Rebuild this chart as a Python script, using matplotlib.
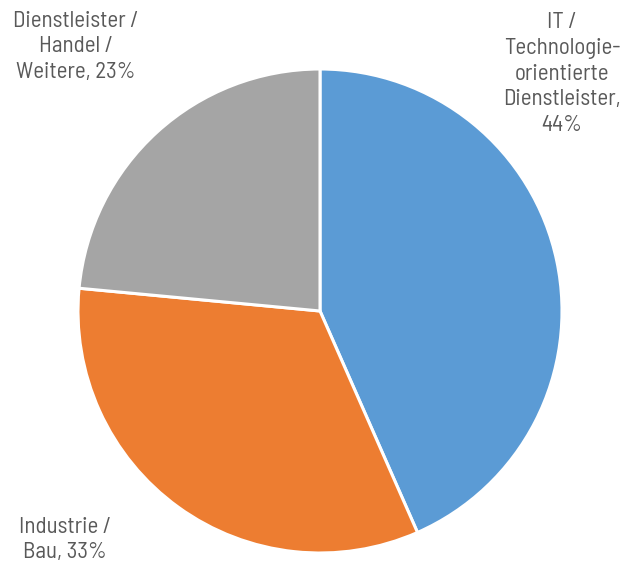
import matplotlib
matplotlib.use("Agg")
import matplotlib.pyplot as plt

categories = ["IT /\nTechnologie-\norientierte\nDienstleister,\n44%",
              "Industrie /\nBau, 33%",
              "Dienstleister /\nHandel /\nWeitere, 23%"]
values = [43.4, 33.1, 23.5]
colors = ["#5B9BD5", "#ED7D31", "#A5A5A5"]

W, H = 641, 566
fig = plt.figure(figsize=(W / 100, H / 100), dpi=100)
cx, cy, r = 320, 311, 242
ax = fig.add_axes([(cx - r) / W, (H - cy - r) / H, 2 * r / W, 2 * r / H])
ax.pie(values, colors=colors, startangle=90, counterclock=False, radius=1,
       wedgeprops=dict(edgecolor="white", linewidth=2.2))
ax.set_xlim(-1, 1)
ax.set_ylim(-1, 1)
ax.set_aspect("equal")
ax.axis("off")

label_pos = [(562, 74), (65, 540), (76, 47)]
for lab, (px, py) in zip(categories, label_pos):
    ax.text((px - cx) / r, (cy - py) / r, lab, ha="center", va="center",
            fontsize=16.5, color="#595959",
            family=["Barlow Semi Condensed", "DejaVu Sans"],
            linespacing=1.3, clip_on=False)

fig.savefig("out.png", dpi=100)
